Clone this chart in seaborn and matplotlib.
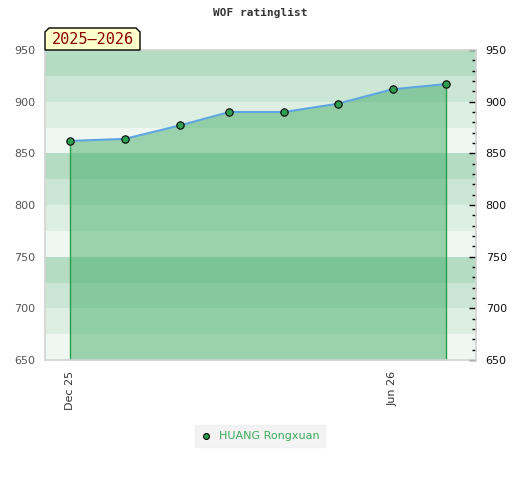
import pandas as pd
import numpy as np
import matplotlib
matplotlib.use("Agg")
import matplotlib.pyplot as plt
import matplotlib.dates as mdates
from matplotlib.patches import Polygon
from matplotlib.ticker import MultipleLocator
import seaborn as sns

# Datos del gráfico
fechas = ["2025-12-01", "2026-01-01", "2026-02-01", "2026-03-01",
          "2026-04-01", "2026-05-01", "2026-06-01", "2026-07-01"]
rating = [862, 864, 877, 890, 890, 898, 912, 917]
jugador = "HUANG Rongxuan"
temporada = "2025\u20132026"
titulo = "WOF ratinglist"
y_min, y_max = 650, 950
x_ticks = ["2025-12-01", "2026-06-01"]
x_tick_labels = ["Dec 25", "Jun 26"]

df = pd.DataFrame({"fecha": pd.to_datetime(fechas), "rating": rating})

sns.set_style("white")
plt.rcParams["font.family"] = ["DejaVu Sans"]

fig = plt.figure(figsize=(5.2, 4.8), dpi=100)
ax = fig.add_axes([45 / 520, 1 - 360 / 480, 431 / 520, 310 / 480])

# Bandas de fondo cada 25 puntos
colores_banda = ["#eff7f2", "#ddeee3", "#cbe6d5", "#b3dcc3"]
for i, y0 in enumerate(range(y_min, y_max, 25)):
    ax.axhspan(y0, y0 + 25, color=colores_banda[i % 4], lw=0, zorder=0)

# Área bajo la curva
ax.fill_between(df["fecha"], df["rating"], y_min, color="#42ac65", alpha=0.49, lw=0, zorder=1)
ax.vlines([df["fecha"].iloc[0], df["fecha"].iloc[-1]], y_min,
          [df["rating"].iloc[0], df["rating"].iloc[-1]], color="#2a9e4a", lw=1, zorder=2)

sns.lineplot(data=df, x="fecha", y="rating", color="#5fa6e0", lw=1.5, ax=ax, zorder=3)
sns.scatterplot(data=df, x="fecha", y="rating", color="#2e9e4f", edgecolor="black",
                linewidth=0.8, s=28, ax=ax, zorder=4, label=jugador)

ax.set_xlim(pd.Timestamp("2025-11-17"), pd.Timestamp("2026-07-18"))
ax.set_ylim(y_min, y_max)
ax.set_xlabel("")
ax.set_ylabel("")

ax.set_xticks(pd.to_datetime(x_ticks))
ax.set_xticklabels(x_tick_labels, rotation=90, fontsize=8, color="#333333")
ax.tick_params(axis="x", length=0, pad=8)

ax.yaxis.set_major_locator(MultipleLocator(50))
ax.yaxis.set_minor_locator(MultipleLocator(10))
ax.tick_params(axis="y", which="both", left=False, right=True, labelleft=True,
               labelright=True, direction="in", labelsize=8, pad=7)
ax.tick_params(axis="y", which="major", length=5, width=1, color="black")
ax.tick_params(axis="y", which="minor", length=3, width=1, color="black")
ax.tick_params(axis="y", labelcolor="#111111")
for t in ax.yaxis.get_major_ticks():
    t.label1.set_color("#555555")

for s in ax.spines.values():
    s.set_color("#d3d3d3")
    s.set_linewidth(1.2)

# Título
fig.text(0.5, 1 - 13 / 480, titulo, ha="center", va="center", fontsize=8,
         family="DejaVu Sans Mono", fontweight="bold", color="#333333")

# Etiqueta de temporada
x0, x1 = 45 / 520, 140 / 520
y0, y1 = 1 - 50 / 480, 1 - 28 / 480
c = 4 / 520
cy = 4 / 480
caja = Polygon([(x0, y0), (x0, y1 - cy), (x0 + c, y1), (x1 - c, y1), (x1, y1 - cy), (x1, y0)],
               closed=True, transform=fig.transFigure, facecolor="#ffffcc",
               edgecolor="black", lw=1, zorder=10)
fig.patches.append(caja)
fig.text((x0 + x1) / 2, (y0 + y1) / 2 - 0.002, temporada, ha="center", va="center",
         fontsize=11, family="DejaVu Sans Mono", color="#8b0000", zorder=11)

# Leyenda
ax.legend_.remove()
leg = fig.legend(loc="center", bbox_to_anchor=(0.5, 1 - 436 / 480), frameon=True,
                 fontsize=8, handletextpad=0.6, handlelength=1.0, borderpad=0.5,
                 labelcolor="#3aaa5c", fancybox=False, markerscale=0.8)
leg.get_frame().set_facecolor("#f0f0f0")
leg.get_frame().set_edgecolor("#f0f0f0")

fig.savefig("out.png", dpi=100)
